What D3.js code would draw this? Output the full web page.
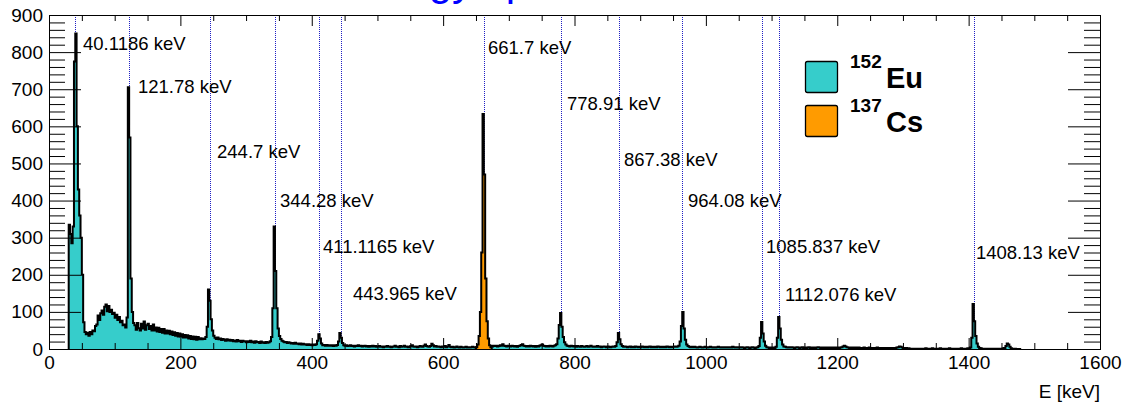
<!DOCTYPE html>
<html>
<head>
<meta charset="utf-8">
<script src="https://cdn.jsdelivr.net/npm/d3@7"></script>
<style>
  html, body { margin: 0; padding: 0; background: #fff; }
  svg { display: block; }
  text { font-family: "Liberation Sans", Arial, Helvetica, sans-serif; }
</style>
</head>
<body>
<svg id="chart" width="1122" height="409"></svg>
<script>
// ---------------- DATA ----------------
const chartTitle = "Energy spectrum";
const xAxisTitle = "E [keV]";
const xTicks = [0, 200, 400, 600, 800, 1000, 1200, 1400, 1600];
const yTicks = [0, 100, 200, 300, 400, 500, 600, 700, 800, 900];

// 152Eu spectrum: 2 keV bins starting at 30 keV
const euStart = 30;
const binWidth = 2;
const euCounts = [
  335,310,285,330,775,850,600,430,360,300,200,72,46,40,44,36,46,40,50,48,62,66,90,78,96,        // 30-78
  104,92,114,120,102,116,100,106,94,98,84,92,78,86,72,76,64,66,58,85,705,570,190,100,70,       // 80-128
  64,52,70,56,50,68,55,74,52,64,68,54,62,50,66,50,58,47,57,46,54,44,54,42,50,                  // 130-178
  42,49,40,47,38,45,36,43,34,42,33,40,31,38,31,37,28,35,27,34,26,33,25,32,26,                  // 180-228
  29,26,28,27,32,60,160,130,80,50,36,30,27,31,26,28,24,27,25,22,26,23,25,22,24,                // 230-278
  21,23,20,24,21,22,19,22,20,21,18,21,19,22,18,20,17,21,18,19,16,20,17,18,16,                  // 280-328
  19,17,18,21,32,110,330,210,110,55,35,27,22,20,18,19,16,18,17,15,16,14,17,14,15,              // 330-378
  13,15,12,14,12,13,11,13,11,12,10,12,11,13,22,40,28,15,10,11,9,11,9,10,9,                     // 380-428
  10,8,10,9,11,20,43,30,16,10,9,10,8,9,10,8,9,7,9,8,10,8,9,7,8,                                 // 430-478
  9,7,8,6,8,7,9,7,8,6,7,8,6,7,5,7,6,8,6,7,5,6,7,9,6,                                            // 480-528
  7,5,8,6,7,9,6,7,5,6,8,10,7,6,7,5,6,8,7,6,9,12,8,7,6,                                          // 530-578
  8,14,10,7,8,6,7,6,5,7,6,8,5,7,11,6,5,6,4,5,7,5,4,6,5,                                         // 580-628
  4,5,6,4,5,4,5,6,5,4,5,4,4,3,4,3,4,4,5,6,7,8,7,9,8,                                            // 630-678
  9,7,8,10,9,13,9,8,7,9,8,7,9,8,7,8,6,8,9,11,13,9,8,7,8,                                        // 680-728
  7,9,8,7,8,6,8,7,9,10,12,9,8,7,8,7,9,8,7,9,10,13,28,65,97,                                     // 730-778
  60,32,18,12,9,8,7,9,8,7,8,6,8,7,6,8,7,6,7,8,6,7,9,7,6,                                        // 780-828
  7,6,8,6,7,5,6,7,6,5,7,6,5,6,7,6,8,18,43,26,13,8,6,7,6,                                        // 830-878
  5,6,7,5,6,5,7,6,5,6,5,7,6,5,6,5,6,7,5,6,5,6,5,7,6,                                            // 880-928
  5,6,5,6,5,7,6,5,6,5,6,7,6,7,9,20,62,100,55,25,12,8,6,5,6,                                     // 930-978
  5,6,5,4,5,6,5,4,5,6,5,4,5,6,5,4,5,4,5,6,5,4,5,4,5,                                            // 980-1028
  4,5,4,5,4,6,5,4,5,4,5,4,5,4,3,4,5,4,3,4,5,4,3,4,5,                                            // 1030-1078
  8,30,73,42,20,9,5,4,3,4,3,4,3,6,30,86,55,25,12,7,6,5,4,5,4,                                   // 1080-1128
  5,4,3,4,5,4,3,4,5,3,4,3,4,5,3,4,3,4,3,4,5,4,3,4,3,                                            // 1130-1178
  4,3,4,3,4,3,4,3,4,3,4,3,4,5,7,9,7,5,4,3,4,3,4,3,4,                                            // 1180-1228
  3,4,3,2,3,4,3,2,3,4,3,2,3,2,3,4,3,2,3,2,3,2,3,2,3,                                            // 1230-1278
  2,3,2,3,2,4,5,7,6,4,3,2,3,2,2,1,1,1,1,1,1,1,1,1,1,                                            // 1280-1328
  1,1,2,1,1,1,1,2,1,1,1,1,1,2,1,1,1,1,1,1,2,1,1,1,1,                                            // 1330-1378
  1,1,1,1,2,1,1,1,1,2,2,4,30,121,75,35,15,6,3,2,1,1,1,1,1,                                      // 1380-1428
  1,1,1,1,1,1,1,1,1,1,1,2,3,8,15,12,6,2,1,1,1,0,0,0,0                                           // 1430-1478
];

// 137Cs spectrum (peak region): 2 keV bins starting at 650 keV
const csStart = 650;
const csCounts = [5,12,35,100,260,633,470,190,75,28,10,5];

// Peak markers and annotations
const peakEnergies = [40.1186, 121.78, 244.7, 344.28, 411.1165, 443.965, 661.7, 778.91, 867.38, 964.08, 1085.837, 1112.076, 1408.13];
const peakLabels = ["40.1186 keV", "121.78 keV", "244.7 keV", "344.28 keV", "411.1165 keV", "443.965 keV", "661.7 keV", "778.91 keV", "867.38 keV", "964.08 keV", "1085.837 keV", "1112.076 keV", "1408.13 keV"];
const labelE = [51.8, 135.5, 255.8, 351.7, 417.1, 462.8, 668.3, 788.6, 875.4, 972.8, 1091.6, 1120.5, 1411.2];
const labelCounts = [805, 690, 515, 383, 259, 132, 795, 644, 493, 383, 259, 129, 243];

// Legend
const legendIsotopes = [{mass: "152", sym: "Eu"}, {mass: "137", sym: "Cs"}];
const legendColors = ["#36cdcb", "#ff9b00"];

// ---------------- DRAW ----------------
const svg = d3.select("#chart");
const W = 1122, H = 409;
const m = {left: 49, right: 1100, top: 15, bottom: 349};

svg.append("rect").attr("width", W).attr("height", H).attr("fill", "#fff");

const x = d3.scaleLinear().domain([0, 1600]).range([m.left, m.right]);
const y = d3.scaleLinear().domain([0, 900]).range([m.bottom, m.top]);

// Title (cropped at top, as in the reference)
svg.append("text")
  .attr("x", 340).attr("y", -5)
  .attr("font-size", 42)
  .attr("fill", "#0000ff")
  .text(chartTitle);

// Dotted peak lines (beneath histograms)
svg.append("g").selectAll("line").data(peakEnergies).join("line")
  .attr("x1", d => Math.round(x(d)) + 0.5).attr("x2", d => Math.round(x(d)) + 0.5)
  .attr("y1", y(900)).attr("y2", y(0))
  .attr("stroke", "#1f1fc4").attr("stroke-width", 1)
  .attr("shape-rendering", "crispEdges")
  .attr("stroke-dasharray", "1,1");

function histPath(start, counts) {
  let p = `M${x(start)},${y(0)}`;
  counts.forEach((c, i) => {
    const x0 = x(start + i * binWidth), x1 = x(start + (i + 1) * binWidth);
    p += `L${x0},${y(c)}L${x1},${y(c)}`;
  });
  p += `L${x(start + counts.length * binWidth)},${y(0)}`;
  return p;
}

function drawHist(start, counts, color) {
  const d = histPath(start, counts);
  svg.append("path").attr("d", d + "Z").attr("fill", color).attr("stroke", "none");
  svg.append("path").attr("d", d).attr("fill", "none")
    .attr("stroke", "#000").attr("stroke-width", 2).attr("stroke-linejoin", "miter");
}
drawHist(euStart, euCounts, legendColors[0]);
drawHist(csStart, csCounts, legendColors[1]);

// Axes
const fontAxis = 19;
const minorY = d3.range(0, 901, 20).filter(v => v % 100 !== 0);
const minorX = d3.range(0, 1601, 50).filter(v => v % 200 !== 0);

svg.append("g").attr("transform", `translate(${m.left},0)`)
  .call(d3.axisLeft(y).tickValues(yTicks).tickSize(-32).tickPadding(6).tickFormat(d3.format("d")));
svg.append("g").attr("transform", `translate(${m.left},0)`)
  .call(d3.axisLeft(y).tickValues(minorY).tickSize(-16).tickFormat(""))
  .call(g => g.select(".domain").remove());
svg.append("g").attr("transform", `translate(${m.right},0)`)
  .call(d3.axisRight(y).tickValues(yTicks).tickSize(-32).tickFormat(""));
svg.append("g").attr("transform", `translate(${m.right},0)`)
  .call(d3.axisRight(y).tickValues(minorY).tickSize(-16).tickFormat(""))
  .call(g => g.select(".domain").remove());

svg.append("g").attr("transform", `translate(0,${m.bottom})`)
  .call(d3.axisBottom(x).tickValues(xTicks).tickSize(-11).tickPadding(7).tickFormat(d3.format("d")));
svg.append("g").attr("transform", `translate(0,${m.bottom})`)
  .call(d3.axisBottom(x).tickValues(minorX).tickSize(-6).tickFormat(""))
  .call(g => g.select(".domain").remove());
svg.append("g").attr("transform", `translate(0,${m.top})`)
  .call(d3.axisTop(x).tickValues(xTicks).tickSize(-11).tickFormat(""));
svg.append("g").attr("transform", `translate(0,${m.top})`)
  .call(d3.axisTop(x).tickValues(minorX).tickSize(-6).tickFormat(""))
  .call(g => g.select(".domain").remove());

svg.selectAll(".domain").attr("stroke", "#000").attr("stroke-width", 1);
svg.selectAll(".tick line").attr("stroke", "#000").attr("stroke-width", 1);
svg.selectAll(".tick text").attr("font-size", fontAxis).attr("fill", "#000")
  .attr("font-family", "Liberation Sans, Arial, sans-serif");

// Frame
svg.append("rect")
  .attr("x", m.left + 0.5).attr("y", m.top + 0.5)
  .attr("width", m.right - m.left).attr("height", m.bottom - m.top)
  .attr("fill", "none").attr("stroke", "#000").attr("stroke-width", 1);

// Axis title
svg.append("text")
  .attr("x", m.right).attr("y", 398)
  .attr("text-anchor", "end").attr("font-size", fontAxis)
  .text(xAxisTitle);

// Peak labels
svg.append("g").selectAll("text").data(peakLabels).join("text")
  .attr("x", (d, i) => x(labelE[i]))
  .attr("y", (d, i) => y(labelCounts[i]))
  .attr("font-size", 18.5).attr("fill", "#000")
  .text(d => d);

// Legend
const leg = svg.append("g");
legendIsotopes.forEach((it, i) => {
  const yy = 61 + i * 44;
  leg.append("rect").attr("x", 805.5).attr("y", yy + 0.5).attr("width", 32).attr("height", 31)
    .attr("rx", 2).attr("fill", legendColors[i]).attr("stroke", "#000").attr("stroke-width", 1.3);
  leg.append("text").attr("x", 850).attr("y", yy + 7)
    .attr("font-size", 19).attr("font-weight", "bold").text(it.mass);
  leg.append("text").attr("x", 886).attr("y", yy + 27)
    .attr("font-size", 29).attr("font-weight", "bold").text(it.sym);
});
</script>
</body>
</html>
